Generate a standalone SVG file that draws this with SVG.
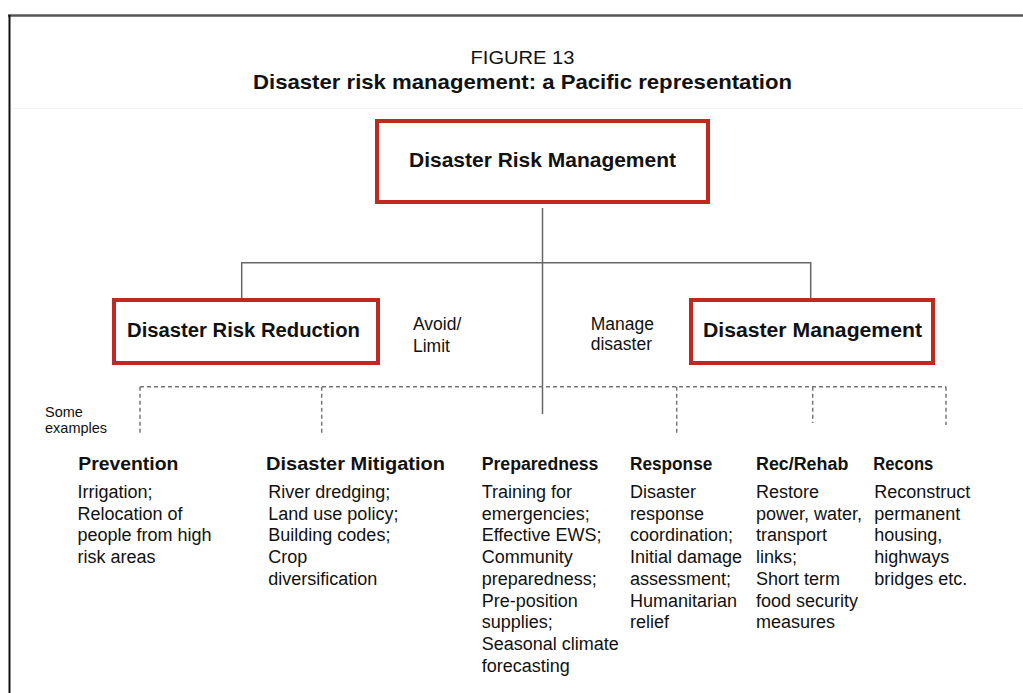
<svg xmlns="http://www.w3.org/2000/svg" width="1023" height="693" viewBox="0 0 1023 693">
<style>
.box{fill:#fff;stroke:#c1281e;stroke-width:4}
.t{font-family:"Liberation Sans",Arial,sans-serif;fill:#111}
.bt{font-family:"Liberation Sans",Arial,sans-serif;font-weight:bold;fill:#111;font-size:20px}
.hd{font-family:"Liberation Sans",Arial,sans-serif;font-weight:bold;fill:#111;font-size:18px}
.body{font-family:"Liberation Sans",Arial,sans-serif;fill:#111;font-size:18px}
.solid{stroke:#666;stroke-width:1.5;fill:none}
.dash{stroke:#777;stroke-width:1.5;fill:none;stroke-dasharray:4 3}
</style>
<rect width="1023" height="693" fill="#fff"/>
<g id="frame">
<line x1="8" y1="15.5" x2="1023" y2="15.5" stroke="#555" stroke-width="2.5"/>
<line x1="9.5" y1="15" x2="9.5" y2="693" stroke="#111" stroke-width="2"/>
<line x1="11" y1="108.5" x2="1023" y2="108.5" stroke="#f2f2f2" stroke-width="1"/>
</g>
<g id="title">
<text class="t" x="522.5" y="64" font-size="19" text-anchor="middle" textLength="104" lengthAdjust="spacingAndGlyphs">FIGURE 13</text>
<text class="t" x="522.5" y="89" font-size="21" font-weight="bold" text-anchor="middle" textLength="539" lengthAdjust="spacingAndGlyphs">Disaster risk management: a Pacific representation</text>
</g>
<g id="connectors">
<line class="solid" x1="542.5" y1="208" x2="542.5" y2="414"/>
<polyline class="solid" points="241.7,300 241.7,262.7 810.7,262.7 810.7,300"/>
<line class="dash" x1="140" y1="386.7" x2="946" y2="386.7"/>
<line class="dash" x1="140" y1="386.7" x2="140" y2="435"/>
<line class="dash" x1="321.7" y1="386.7" x2="321.7" y2="435"/>
<line class="dash" x1="676.7" y1="386.7" x2="676.7" y2="433"/>
<line class="dash" x1="812.7" y1="386.7" x2="812.7" y2="423"/>
<line class="dash" x1="946" y1="386.7" x2="946" y2="425"/>
</g>
<g id="drm">
<rect class="box" x="377" y="121" width="331" height="81"/>
<text class="bt" x="542.5" y="167" text-anchor="middle" textLength="267" lengthAdjust="spacingAndGlyphs">Disaster Risk Management</text>
</g>
<g id="drr">
<rect class="box" x="114" y="300" width="264" height="63"/>
<text class="bt" x="127" y="337" textLength="233" lengthAdjust="spacingAndGlyphs">Disaster Risk Reduction</text>
</g>
<g id="dm">
<rect class="box" x="691" y="300" width="242" height="63"/>
<text class="bt" x="703" y="337" textLength="219" lengthAdjust="spacingAndGlyphs">Disaster Management</text>
</g>
<g id="avoid">
<text class="t" font-size="17.5" x="413" y="330">Avoid/</text>
<text class="t" font-size="17.5" x="413" y="352">Limit</text>
</g>
<g id="manage">
<text class="t" font-size="17.5" x="590.7" y="330">Manage</text>
<text class="t" font-size="17.5" x="590.7" y="350">disaster</text>
</g>
<g id="examples">
<text class="t" font-size="14.5" x="45" y="417">Some</text>
<text class="t" font-size="14.5" x="45" y="433">examples</text>
</g>
<g id="prevention">
<text class="hd" x="78.3" y="470" textLength="100" lengthAdjust="spacingAndGlyphs">Prevention</text>
<text class="body"><tspan x="77.5" y="498">Irrigation;</tspan><tspan x="77.5" y="519.7">Relocation of</tspan><tspan x="77.5" y="541.4">people from high</tspan><tspan x="77.5" y="563.1">risk areas</tspan></text>
</g>
<g id="mitigation">
<text class="hd" x="266" y="470" textLength="179" lengthAdjust="spacingAndGlyphs">Disaster Mitigation</text>
<text class="body"><tspan x="268.3" y="498">River dredging;</tspan><tspan x="268.3" y="519.7">Land use policy;</tspan><tspan x="268.3" y="541.4">Building codes;</tspan><tspan x="268.3" y="563.1">Crop</tspan><tspan x="268.3" y="584.8">diversification</tspan></text>
</g>
<g id="preparedness">
<text class="hd" x="481.7" y="470" textLength="116.7" lengthAdjust="spacingAndGlyphs">Preparedness</text>
<text class="body"><tspan x="481.7" y="498">Training for</tspan><tspan x="481.7" y="519.7">emergencies;</tspan><tspan x="481.7" y="541.4">Effective EWS;</tspan><tspan x="481.7" y="563.1">Community</tspan><tspan x="481.7" y="584.8">preparedness;</tspan><tspan x="481.7" y="606.5">Pre-position</tspan><tspan x="481.7" y="628.2">supplies;</tspan><tspan x="481.7" y="649.9">Seasonal climate</tspan><tspan x="481.7" y="671.6">forecasting</tspan></text>
</g>
<g id="response">
<text class="hd" x="630" y="470" textLength="82.3" lengthAdjust="spacingAndGlyphs">Response</text>
<text class="body"><tspan x="630" y="498">Disaster</tspan><tspan x="630" y="519.7">response</tspan><tspan x="630" y="541.4">coordination;</tspan><tspan x="630" y="563.1">Initial damage</tspan><tspan x="630" y="584.8">assessment;</tspan><tspan x="630" y="606.5">Humanitarian</tspan><tspan x="630" y="628.2">relief</tspan></text>
</g>
<g id="rehab">
<text class="hd" x="756" y="470" textLength="92.3" lengthAdjust="spacingAndGlyphs">Rec/Rehab</text>
<text class="body"><tspan x="756" y="498">Restore</tspan><tspan x="756" y="519.7">power, water,</tspan><tspan x="756" y="541.4">transport</tspan><tspan x="756" y="563.1">links;</tspan><tspan x="756" y="584.8">Short term</tspan><tspan x="756" y="606.5">food security</tspan><tspan x="756" y="628.2">measures</tspan></text>
</g>
<g id="recons">
<text class="hd" x="873.3" y="470" textLength="60" lengthAdjust="spacingAndGlyphs">Recons</text>
<text class="body"><tspan x="874.3" y="498">Reconstruct</tspan><tspan x="874.3" y="519.7">permanent</tspan><tspan x="874.3" y="541.4">housing,</tspan><tspan x="874.3" y="563.1">highways</tspan><tspan x="874.3" y="584.8">bridges etc.</tspan></text>
</g>
</svg>
